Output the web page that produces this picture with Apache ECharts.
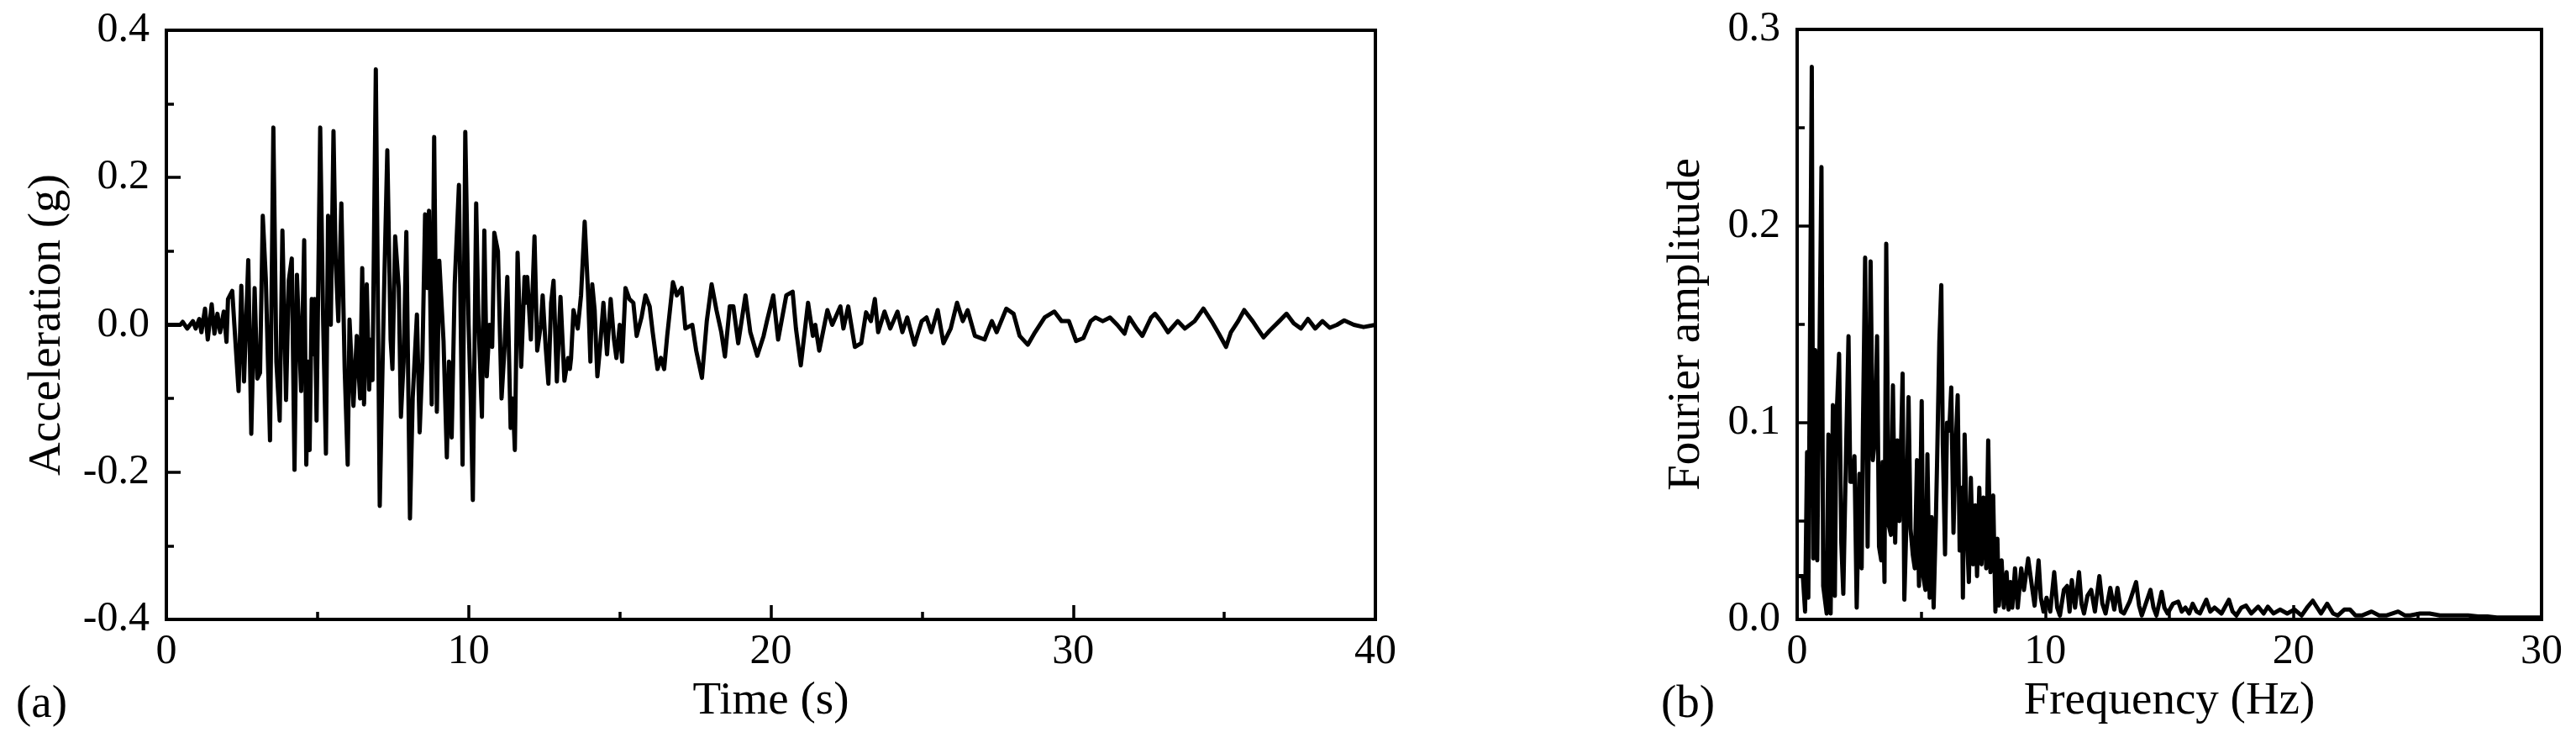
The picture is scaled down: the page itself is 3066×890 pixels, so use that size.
<!DOCTYPE html>
<html>
<head>
<meta charset="utf-8">
<script src="https://cdn.jsdelivr.net/npm/echarts@6/dist/echarts.min.js"></script>
<style>
html,body{margin:0;padding:0;background:#fff;}
#chart{width:3066px;height:890px;}
</style>
</head>
<body>
<div id="chart"></div>
<script>
// ---- (a) acceleration time history ----
const accTime = [
0,0.46,0.54,0.69,0.88,0.97,1.09,1.16,1.28,1.37,1.5,1.59,1.69,1.78,1.9,1.99,2.04,2.18,2.25,2.39,
2.48,2.57,2.71,2.81,2.92,3.01,3.10,3.19,3.29,3.43,3.54,3.64,3.75,3.84,3.96,4.05,4.15,4.24,4.32,4.46,
4.56,4.63,4.69,4.74,4.81,4.87,4.91,4.97,5.09,5.19,5.28,5.35,5.44,5.53,5.60,5.69,5.79,5.90,6.0,6.06,
6.19,6.30,6.41,6.48,6.54,6.63,6.71,6.77,6.82,6.93,7.06,7.20,7.31,7.42,7.48,7.57,7.69,7.76,7.85,7.94,
8.06,8.15,8.29,8.38,8.47,8.56,8.63,8.69,8.78,8.86,8.95,9.03,9.17,9.28,9.35,9.44,9.54,9.68,9.80,9.89,
10.0,10.07,10.14,10.25,10.32,10.44,10.52,10.60,10.69,10.78,10.85,10.97,11.09,11.19,11.28,11.39,11.46,11.53,11.62,11.74,
11.85,11.90,11.94,12.06,12.18,12.27,12.39,12.45,12.55,12.64,12.73,12.81,12.92,13.04,13.17,13.29,13.35,13.39,13.47,13.61,
13.72,13.84,13.95,14.03,14.09,14.17,14.26,14.35,14.46,14.58,14.70,14.81,14.89,15.0,15.08,15.19,15.32,15.45,15.56,15.72,
15.85,15.99,16.09,16.25,16.36,16.47,16.57,16.76,16.89,17.05,17.17,17.40,17.53,17.72,17.88,18.04,18.20,18.36,18.48,18.64,
18.76,18.92,19.16,19.32,19.55,19.76,19.87,20.08,20.24,20.51,20.72,20.83,20.99,21.23,21.39,21.47,21.60,21.87,22.03,22.30,
22.40,22.56,22.78,22.99,23.15,23.31,23.44,23.55,23.76,23.95,24.19,24.35,24.51,24.75,24.99,25.15,25.31,25.52,25.71,25.95,
26.16,26.35,26.51,26.75,27.07,27.31,27.47,27.79,28.03,28.23,28.50,28.74,29.06,29.38,29.62,29.86,30.10,30.34,30.58,30.74,
30.98,31.22,31.46,31.70,31.86,32.10,32.29,32.58,32.71,32.90,33.14,33.46,33.70,34.02,34.31,34.58,34.82,35.06,35.22,35.46,
35.66,35.94,36.10,36.30,36.50,36.82,37.06,37.30,37.54,37.77,38.01,38.25,38.49,38.73,38.97,39.29,39.61,40.0
];
const accValue = [
0,0,0.004,-0.005,0.005,-0.005,0.008,-0.01,0.022,-0.02,0.028,-0.012,0.015,-0.01,0.018,-0.023,0.035,0.046,0.0,-0.09,
0.053,-0.077,0.088,-0.148,0.05,-0.073,-0.065,0.148,0.063,-0.157,0.268,-0.05,-0.13,0.128,-0.102,0.06,0.09,-0.197,0.068,-0.09,
0.115,-0.19,-0.05,-0.17,0.035,-0.04,0.035,-0.13,0.268,0.0,-0.175,0.148,0.0,0.263,0.09,0.005,0.165,-0.06,-0.19,0.007,
-0.11,-0.015,-0.1,0.077,-0.108,0.055,-0.088,-0.02,-0.075,0.347,-0.246,0.04,0.237,-0.02,-0.06,0.12,0.05,-0.125,-0.05,0.126,
-0.263,-0.1,0.014,-0.146,-0.05,0.15,0.05,0.155,-0.108,0.255,-0.118,0.087,-0.022,-0.18,-0.05,-0.153,0.055,0.19,-0.19,0.262,
0.0,-0.1,-0.238,0.165,0.015,-0.125,0.128,-0.07,0.0,-0.03,0.125,0.1,-0.1,-0.03,0.065,-0.14,-0.1,-0.17,0.098,-0.057,
0.065,0.03,0.065,-0.02,0.12,-0.035,0.0,0.04,-0.03,-0.08,0.03,0.06,-0.077,0.038,-0.076,-0.045,-0.06,-0.045,0.02,-0.005,
0.04,0.14,0.045,-0.05,0.055,0.02,-0.07,-0.03,0.03,-0.04,0.035,-0.02,-0.045,0.0,-0.05,0.05,0.035,0.03,-0.015,0.01,
0.04,0.025,-0.01,-0.06,-0.045,-0.06,-0.015,0.058,0.04,0.05,-0.005,0.0,-0.035,-0.072,0.005,0.055,0.02,-0.01,-0.043,0.025,
0.025,-0.025,0.04,-0.01,-0.042,-0.015,0.005,0.04,-0.02,0.04,0.045,-0.005,-0.055,0.03,-0.015,0.0,-0.035,0.02,0.0,0.025,
-0.005,0.025,-0.03,-0.025,0.017,0.005,0.035,-0.01,0.018,-0.005,0.018,-0.01,0.01,-0.027,0.005,0.01,-0.01,0.02,-0.025,-0.005,
0.03,0.005,0.02,-0.015,-0.02,0.005,-0.01,0.022,0.015,-0.015,-0.027,-0.01,0.01,0.018,0.005,0.005,-0.022,-0.018,0.005,0.01,
0.005,0.01,0.0,-0.012,0.01,-0.005,-0.015,0.01,0.015,0.005,-0.01,0.005,-0.005,0.005,0.022,0.005,-0.012,-0.03,-0.01,0.005,
0.02,0.005,-0.005,-0.017,-0.008,0.005,0.015,0.002,-0.005,0.008,-0.005,0.005,-0.004,0.0,0.006,0.0,-0.003,0.0
];

// ---- (b) Fourier amplitude spectrum ----
const freqHz = [
0,0.11,0.23,0.32,0.40,0.45,0.51,0.59,0.65,0.73,0.81,0.98,1.05,1.19,1.26,1.35,1.44,1.52,1.58,1.69,
1.78,1.86,1.98,2.07,2.14,2.23,2.31,2.40,2.51,2.60,2.65,2.74,2.84,2.96,3.05,3.14,3.22,3.30,3.39,3.44,
3.52,3.59,3.69,3.78,3.86,3.95,4.04,4.12,4.25,4.32,4.40,4.49,4.57,4.66,4.74,4.83,4.91,5.02,5.08,5.17,
5.25,5.34,5.42,5.50,5.59,5.64,5.73,5.81,5.87,5.96,6.04,6.13,6.21,6.30,6.38,6.47,6.55,6.64,6.68,6.75,
6.83,6.92,7.0,7.09,7.18,7.25,7.34,7.43,7.51,7.62,7.70,7.79,7.90,7.99,8.07,8.13,8.24,8.33,8.44,8.52,
8.60,8.67,8.78,8.89,9.03,9.14,9.31,9.46,9.57,9.73,9.82,9.93,10.05,10.20,10.36,10.48,10.59,10.75,10.88,10.98,
11.07,11.20,11.36,11.46,11.56,11.70,11.85,12.0,12.18,12.30,12.43,12.62,12.78,12.91,13.05,13.17,13.40,13.66,13.78,13.89,
14.05,14.24,14.36,14.48,14.69,14.80,14.93,15.15,15.36,15.50,15.65,15.80,15.94,16.10,16.23,16.49,16.65,16.82,17.10,17.40,
17.55,17.70,17.90,18.09,18.30,18.58,18.80,18.97,19.20,19.46,19.75,20.04,20.33,20.55,20.78,21.11,21.36,21.60,21.79,22.05,
22.28,22.50,22.76,23.15,23.45,23.74,24.22,24.50,24.71,25.10,25.49,25.90,26.26,26.65,27.04,27.45,27.82,28.20,28.60,29.15,30.0
];
const fourierAmp = [
0.022,0.022,0.022,0.004,0.085,0.011,0.128,0.281,0.031,0.137,0.03,0.23,0.017,0.003,0.094,0.003,0.109,0.012,0.1,0.135,
0.039,0.013,0.091,0.144,0.07,0.07,0.083,0.006,0.074,0.026,0.096,0.184,0.037,0.182,0.081,0.093,0.144,0.037,0.03,0.08,
0.019,0.191,0.048,0.043,0.119,0.039,0.091,0.05,0.125,0.01,0.048,0.113,0.046,0.033,0.026,0.081,0.017,0.111,0.022,0.015,
0.084,0.011,0.052,0.006,0.05,0.08,0.141,0.17,0.089,0.033,0.1,0.096,0.118,0.044,0.085,0.114,0.035,0.067,0.011,0.094,
0.048,0.019,0.072,0.028,0.058,0.022,0.067,0.028,0.062,0.026,0.091,0.024,0.063,0.004,0.041,0.007,0.03,0.006,0.024,0.005,
0.019,0.006,0.026,0.006,0.026,0.015,0.031,0.017,0.007,0.03,0.011,0.004,0.011,0.004,0.024,0.006,0.002,0.015,0.017,0.004,
0.02,0.006,0.024,0.008,0.003,0.012,0.015,0.004,0.022,0.008,0.003,0.016,0.005,0.016,0.004,0.003,0.009,0.019,0.007,0.002,
0.008,0.015,0.006,0.002,0.014,0.006,0.003,0.008,0.009,0.004,0.006,0.003,0.008,0.004,0.003,0.01,0.004,0.006,0.003,0.01,
0.004,0.002,0.006,0.007,0.003,0.0065,0.003,0.0065,0.003,0.005,0.003,0.005,0.002,0.006,0.0095,0.003,0.008,0.003,0.002,0.005,
0.005,0.002,0.002,0.004,0.002,0.002,0.004,0.002,0.002,0.003,0.003,0.002,0.002,0.002,0.002,0.0015,0.0015,0.001,0.001,0.001,0.001
];

const xTicksA = [0, 10, 20, 30, 40];
const yTicksA = [-0.4, -0.2, 0.0, 0.2, 0.4];
const xTicksB = [0, 10, 20, 30];
const yTicksB = [0.0, 0.1, 0.2, 0.3];

const FONT = '"Liberation Serif", "Times New Roman", serif';
const tickFS = 50, nameFS = 55;

function pairs(xs, ys){ return xs.map((x,i)=>[x, ys[i]]); }

function xAxisCfg(gi, ticks, name){
  return {
    type:'value', gridIndex:gi, min:ticks[0], max:ticks[ticks.length-1],
    interval: ticks[1]-ticks[0],
    name:name, nameLocation:'middle', nameGap:70,
    nameTextStyle:{fontFamily:FONT, fontSize:nameFS, color:'#000'},
    axisLine:{show:true, onZero:false, lineStyle:{color:'#000', width:4}},
    axisTick:{show:true, inside:true, length:17, lineStyle:{color:'#000', width:3.5}},
    minorTick:{show:true, splitNumber:2, length:9, lineStyle:{color:'#000', width:3.5}},
    splitLine:{show:false},
    axisLabel:{fontFamily:FONT, fontSize:tickFS, color:'#000', margin:14,
      formatter:(v)=>String(Math.round(v))}
  };
}
function yAxisCfg(gi, ticks, name, gap){
  return {
    type:'value', gridIndex:gi, min:ticks[0], max:ticks[ticks.length-1],
    interval: Math.round((ticks[1]-ticks[0])*10)/10,
    name:name, nameLocation:'middle', nameGap:gap,
    nameTextStyle:{fontFamily:FONT, fontSize:nameFS, color:'#000'},
    axisLine:{show:true, onZero:false, lineStyle:{color:'#000', width:4}},
    axisTick:{show:true, inside:true, length:17, lineStyle:{color:'#000', width:3.5}},
    minorTick:{show:true, splitNumber:2, length:9, lineStyle:{color:'#000', width:3.5}},
    splitLine:{show:false},
    axisLabel:{fontFamily:FONT, fontSize:tickFS, color:'#000', margin:20,
      formatter:(v)=>v.toFixed(1)}
  };
}

const chart = echarts.init(document.getElementById('chart'), null, {renderer:'canvas'});
chart.setOption({
  animation:false,
  backgroundColor:'#fff',
  grid:[
    {left:198, top:36, width:1439, height:701, show:true, borderColor:'#000', borderWidth:4, backgroundColor:'transparent'},
    {left:2139, top:35, width:886, height:702, show:true, borderColor:'#000', borderWidth:4, backgroundColor:'transparent'}
  ],
  title:[
    {text:'(a)', left:14, top:806, textStyle:{fontFamily:FONT, fontSize:nameFS, fontWeight:'normal', color:'#000'}},
    {text:'(b)', left:1972, top:806, textStyle:{fontFamily:FONT, fontSize:nameFS, fontWeight:'normal', color:'#000'}}
  ],
  xAxis:[ xAxisCfg(0, xTicksA, 'Time (s)'), xAxisCfg(1, xTicksB, 'Frequency (Hz)') ],
  yAxis:[ yAxisCfg(0, yTicksA, 'Acceleration (g)', 114), yAxisCfg(1, yTicksB, 'Fourier amplitude', 104) ],
  series:[
    {type:'line', xAxisIndex:0, yAxisIndex:0, data:pairs(accTime, accValue), showSymbol:false, clip:true,
     lineStyle:{color:'#000', width:5, join:'round'}, itemStyle:{color:'#000'}},
    {type:'line', xAxisIndex:1, yAxisIndex:1, data:pairs(freqHz, fourierAmp), showSymbol:false, clip:true,
     lineStyle:{color:'#000', width:5, join:'round'}, itemStyle:{color:'#000'}}
  ]
});
</script>
</body>
</html>
